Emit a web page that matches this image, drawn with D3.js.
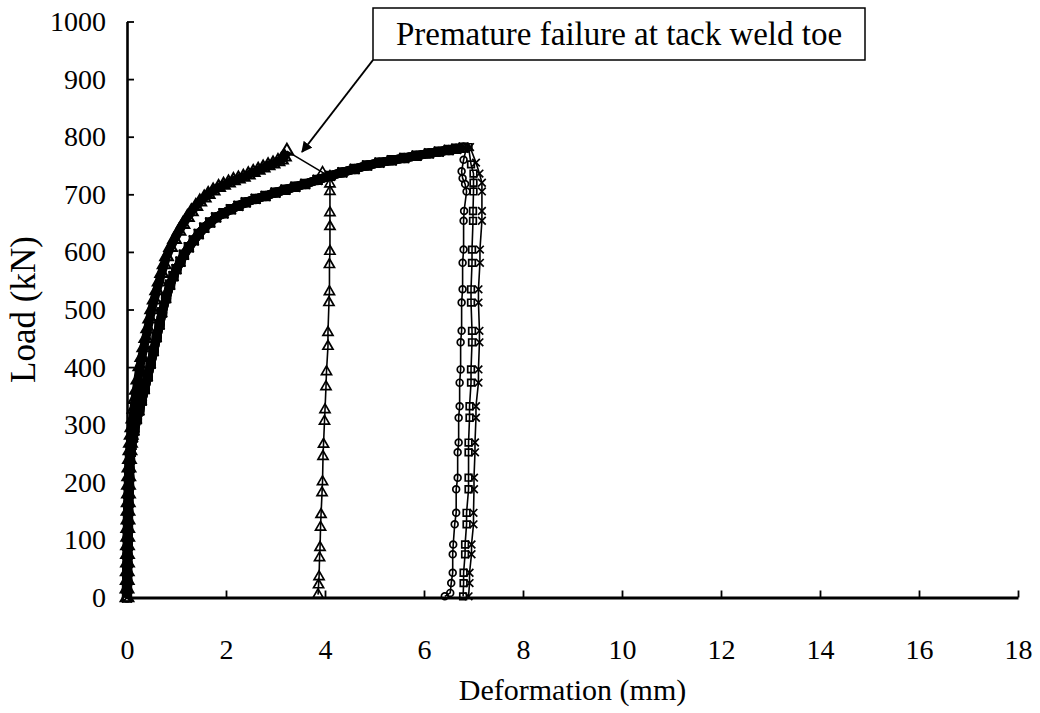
<!DOCTYPE html>
<html>
<head>
<meta charset="utf-8">
<script src="https://cdn.jsdelivr.net/npm/d3@7"></script>
<style>
  html, body { margin: 0; padding: 0; background: #fff; }
  svg { display: block; }
  svg text { font-family: "Liberation Serif", "Times New Roman", Times, "DejaVu Serif", serif !important; fill: #000; }
</style>
</head>
<body>
<svg id="chart" width="1040" height="713"></svg>
<script>
// ---------- DATA ----------
const xTicks = [0, 2, 4, 6, 8, 10, 12, 14, 16, 18];
const yTicks = [0, 100, 200, 300, 400, 500, 600, 700, 800, 900, 1000];
const xTitle = "Deformation (mm)";
const yTitle = "Load (kN)";
const annotationText = "Premature failure at tack weld toe";

// Specimen with premature failure (triangle markers): loading branch [deformation mm, load kN]
const triangleLoading = [
  [0,0],[0,15],[0.005,30],[0.005,45],[0.01,60],[0.01,75],[0.01,90],[0.015,105],[0.015,120],
  [0.02,135],[0.02,150],[0.025,165],[0.03,180],[0.03,195],[0.035,210],[0.04,225],[0.05,240],
  [0.06,255],[0.07,268],[0.085,282],[0.1,295],[0.12,310],[0.14,327],[0.16,344],[0.19,360],
  [0.22,378],[0.26,401],[0.3,417],[0.34,434],[0.38,450],[0.42,467],[0.46,484],[0.5,500],
  [0.55,517],[0.6,533],[0.65,548],[0.7,563],[0.75,578],[0.8,592],[0.88,608],[0.96,622],
  [1.05,636],[1.13,648],[1.22,660],[1.3,670],[1.39,679],[1.47,687],[1.56,694],[1.64,700],
  [1.74,706],[1.85,712],[1.95,716],[2.05,720],[2.15,724],[2.25,727],[2.35,730],[2.45,734],
  [2.55,738],[2.65,742],[2.75,746],[2.85,750],[2.95,753],[3.05,757],[3.12,760],[3.18,765],[3.23,775]
];
// Triangle specimen: drop after failure and unloading
const triangleUnloading = [
  [3.95,738],[4.10,731],[4.10,718],[4.10,705],[4.10,668],[4.10,644],[4.10,601],[4.09,578],
  [4.09,531],[4.08,512],[4.06,460],[4.06,436],[4.03,392],[4.02,366],[4.00,326],[3.99,306],
  [3.97,266],[3.96,245],[3.95,201],[3.94,182],[3.92,144],[3.91,122],[3.90,87],[3.89,69],
  [3.88,36],[3.87,22],[3.86,5]
];
// Loading branch shared by the other three specimens (circle, square, cross)
const sharedLoading = [
  [0,0],[0,15],[0.005,30],[0.005,45],[0.01,60],[0.01,75],[0.015,90],[0.015,105],[0.02,120],
  [0.02,135],[0.025,150],[0.03,165],[0.035,180],[0.04,195],[0.045,210],[0.05,225],[0.06,240],
  [0.075,253],[0.09,265],[0.12,278],[0.15,290],[0.2,310],[0.25,325],[0.3,342],[0.36,362],
  [0.42,384],[0.48,406],[0.54,428],[0.6,452],[0.66,474],[0.71,495],[0.79,520],[0.87,543],
  [0.94,558],[1.0,570],[1.08,583],[1.15,595],[1.25,608],[1.35,620],[1.45,631],[1.56,642],
  [1.68,651],[1.8,660],[1.95,667],[2.1,674],[2.25,680],[2.4,686],[2.6,692],[2.8,697],
  [3.0,703],[3.2,708],[3.4,713],[3.6,718],[3.85,725],[4.1,732],[4.35,738],[4.6,744],
  [4.85,750],[5.1,755],[5.35,759],[5.6,763],[5.85,767],[6.1,771],[6.3,774],[6.5,777],
  [6.65,779],[6.8,781]
];
const circleUnloading = [
  [6.86,782],[6.80,760],[6.76,740],[6.78,728],[6.83,718],[6.86,705],[6.81,671],[6.80,654],
  [6.80,604],[6.78,581],[6.78,535],[6.76,512],[6.76,463],[6.74,443],[6.74,396],[6.72,373],
  [6.72,332],[6.70,312],[6.70,269],[6.68,252],[6.68,208],[6.65,188],[6.65,147],[6.62,127],
  [6.59,92],[6.58,75],[6.58,43],[6.55,25],[6.53,8],[6.42,2]
];
const squareUnloading = [
  [6.90,782],[6.95,752],[7.00,736],[7.00,720],[7.00,705],[6.99,671],[6.99,654],[6.97,604],
  [6.97,581],[6.95,535],[6.95,512],[6.97,463],[6.97,443],[6.95,396],[6.95,373],[6.92,332],
  [6.92,312],[6.90,269],[6.90,252],[6.90,208],[6.90,188],[6.86,147],[6.86,127],[6.83,92],
  [6.83,75],[6.80,43],[6.80,25],[6.79,2]
];
const crossUnloading = [
  [6.93,782],[7.05,755],[7.12,736],[7.17,720],[7.17,705],[7.17,671],[7.17,654],[7.13,604],
  [7.13,581],[7.10,535],[7.10,512],[7.12,463],[7.12,443],[7.10,396],[7.10,373],[7.05,332],
  [7.05,312],[7.03,269],[7.03,252],[7.01,208],[7.01,188],[7.00,147],[7.00,127],[6.96,92],
  [6.96,75],[6.92,43],[6.92,25],[6.90,2]
];

// ---------- CHART ----------
const svg = d3.select("#chart");
const x = d3.scaleLinear().domain([0, 18]).range([127, 1018]);
const y = d3.scaleLinear().domain([0, 1000]).range([597.5, 21.5]);
const FONT = '"Liberation Serif", "Times New Roman", Times, "DejaVu Serif", serif';

const series = [
  { name: "triangle", loading: triangleLoading, tail: triangleUnloading, symbol: d3.symbolTriangle, size: 44 },
  { name: "circle", loading: sharedLoading, tail: circleUnloading, symbol: d3.symbolCircle, size: 36 },
  { name: "square", loading: sharedLoading, tail: squareUnloading, symbol: d3.symbolSquare, size: 44 },
  { name: "cross", loading: sharedLoading, tail: crossUnloading, symbol: d3.symbolX, size: 40 }
];

const line = d3.line().x(d => x(d[0])).y(d => y(d[1]));
const plot = svg.append("g");

series.forEach(s => {
  const g = plot.append("g").attr("class", "series-" + s.name);
  // dense loading branch: reads as a heavy band of overlapping markers
  g.append("path")
    .datum(s.loading)
    .attr("d", line)
    .attr("fill", "none")
    .attr("stroke", "#000")
    .attr("stroke-width", 9)
    .attr("stroke-linejoin", "round");
  g.append("path")
    .datum([s.loading[s.loading.length - 1]].concat(s.tail))
    .attr("d", line)
    .attr("fill", "none")
    .attr("stroke", "#000")
    .attr("stroke-width", 1.6);
  g.selectAll("path.mload")
    .data(s.loading)
    .join("path")
    .attr("class", "mload")
    .attr("transform", d => `translate(${x(d[0])},${y(d[1])})`)
    .attr("d", d3.symbol().type(s.symbol).size(s.size * 1.6))
    .attr("fill", "none")
    .attr("stroke", "#000")
    .attr("stroke-width", 2);
  g.selectAll("path.mtail")
    .data(s.tail)
    .join("path")
    .attr("class", "mtail")
    .attr("transform", d => `translate(${x(d[0])},${y(d[1])})`)
    .attr("d", d3.symbol().type(s.symbol).size(s.size))
    .attr("fill", "none")
    .attr("stroke", "#000")
    .attr("stroke-width", 1.7);
});

// Axes
const yAxis = d3.axisLeft(y).tickValues(yTicks).tickSizeInner(-7).tickSizeOuter(0).tickPadding(21)
  .tickFormat(d3.format("d"));
const gy = svg.append("g").attr("transform", `translate(${x(0)},0)`).call(yAxis);
gy.attr("font-family", FONT);
gy.select(".domain").attr("stroke-width", 2.6);
gy.selectAll(".tick line").attr("stroke-width", 1.8);
gy.selectAll(".tick text").attr("font-size", 28).attr("font-family", FONT);

const xAxis = d3.axisBottom(x).tickValues(xTicks).tickSizeInner(-7).tickSizeOuter(0).tickPadding(42)
  .tickFormat(d3.format("d"));
const gx = svg.append("g").attr("transform", `translate(0,${y(0)})`).call(xAxis);
gx.attr("font-family", FONT);
gx.select(".domain").attr("stroke-width", 3);
gx.selectAll(".tick line").attr("stroke-width", 1.8);
gx.selectAll(".tick text").attr("font-size", 28).attr("font-family", FONT);

// Axis titles
svg.append("text")
  .attr("x", (x(0) + x(18)) / 2)
  .attr("y", 700)
  .attr("text-anchor", "middle")
  .attr("font-family", FONT)
  .attr("font-size", 30)
  .text(xTitle);

svg.append("text")
  .attr("transform", `translate(35,${(y(0) + y(1000)) / 2}) rotate(-90)`)
  .attr("text-anchor", "middle")
  .attr("font-family", FONT)
  .attr("font-size", 35)
  .text(yTitle);

// Annotation box with arrow
const defs = svg.append("defs");
defs.append("marker")
  .attr("id", "arrowhead")
  .attr("viewBox", "0 0 10 10")
  .attr("refX", 9).attr("refY", 5)
  .attr("markerWidth", 11).attr("markerHeight", 11)
  .attr("markerUnits", "userSpaceOnUse")
  .attr("orient", "auto")
  .append("path")
  .attr("d", "M0,0 L10,5 L0,10 z")
  .attr("fill", "#000");

const box = { x0: 373, x1: 865, y0: 8, y1: 60 };
svg.append("rect")
  .attr("x", box.x0).attr("y", box.y0)
  .attr("width", box.x1 - box.x0).attr("height", box.y1 - box.y0)
  .attr("fill", "#fff").attr("stroke", "#000").attr("stroke-width", 1.5);
svg.append("text")
  .attr("x", (box.x0 + box.x1) / 2)
  .attr("y", 45)
  .attr("text-anchor", "middle")
  .attr("font-family", FONT)
  .attr("font-size", 33)
  .text(annotationText);

svg.append("line")
  .attr("x1", box.x0).attr("y1", box.y1)
  .attr("x2", 302).attr("y2", 152)
  .attr("stroke", "#000").attr("stroke-width", 2)
  .attr("marker-end", "url(#arrowhead)");
</script>
</body>
</html>
